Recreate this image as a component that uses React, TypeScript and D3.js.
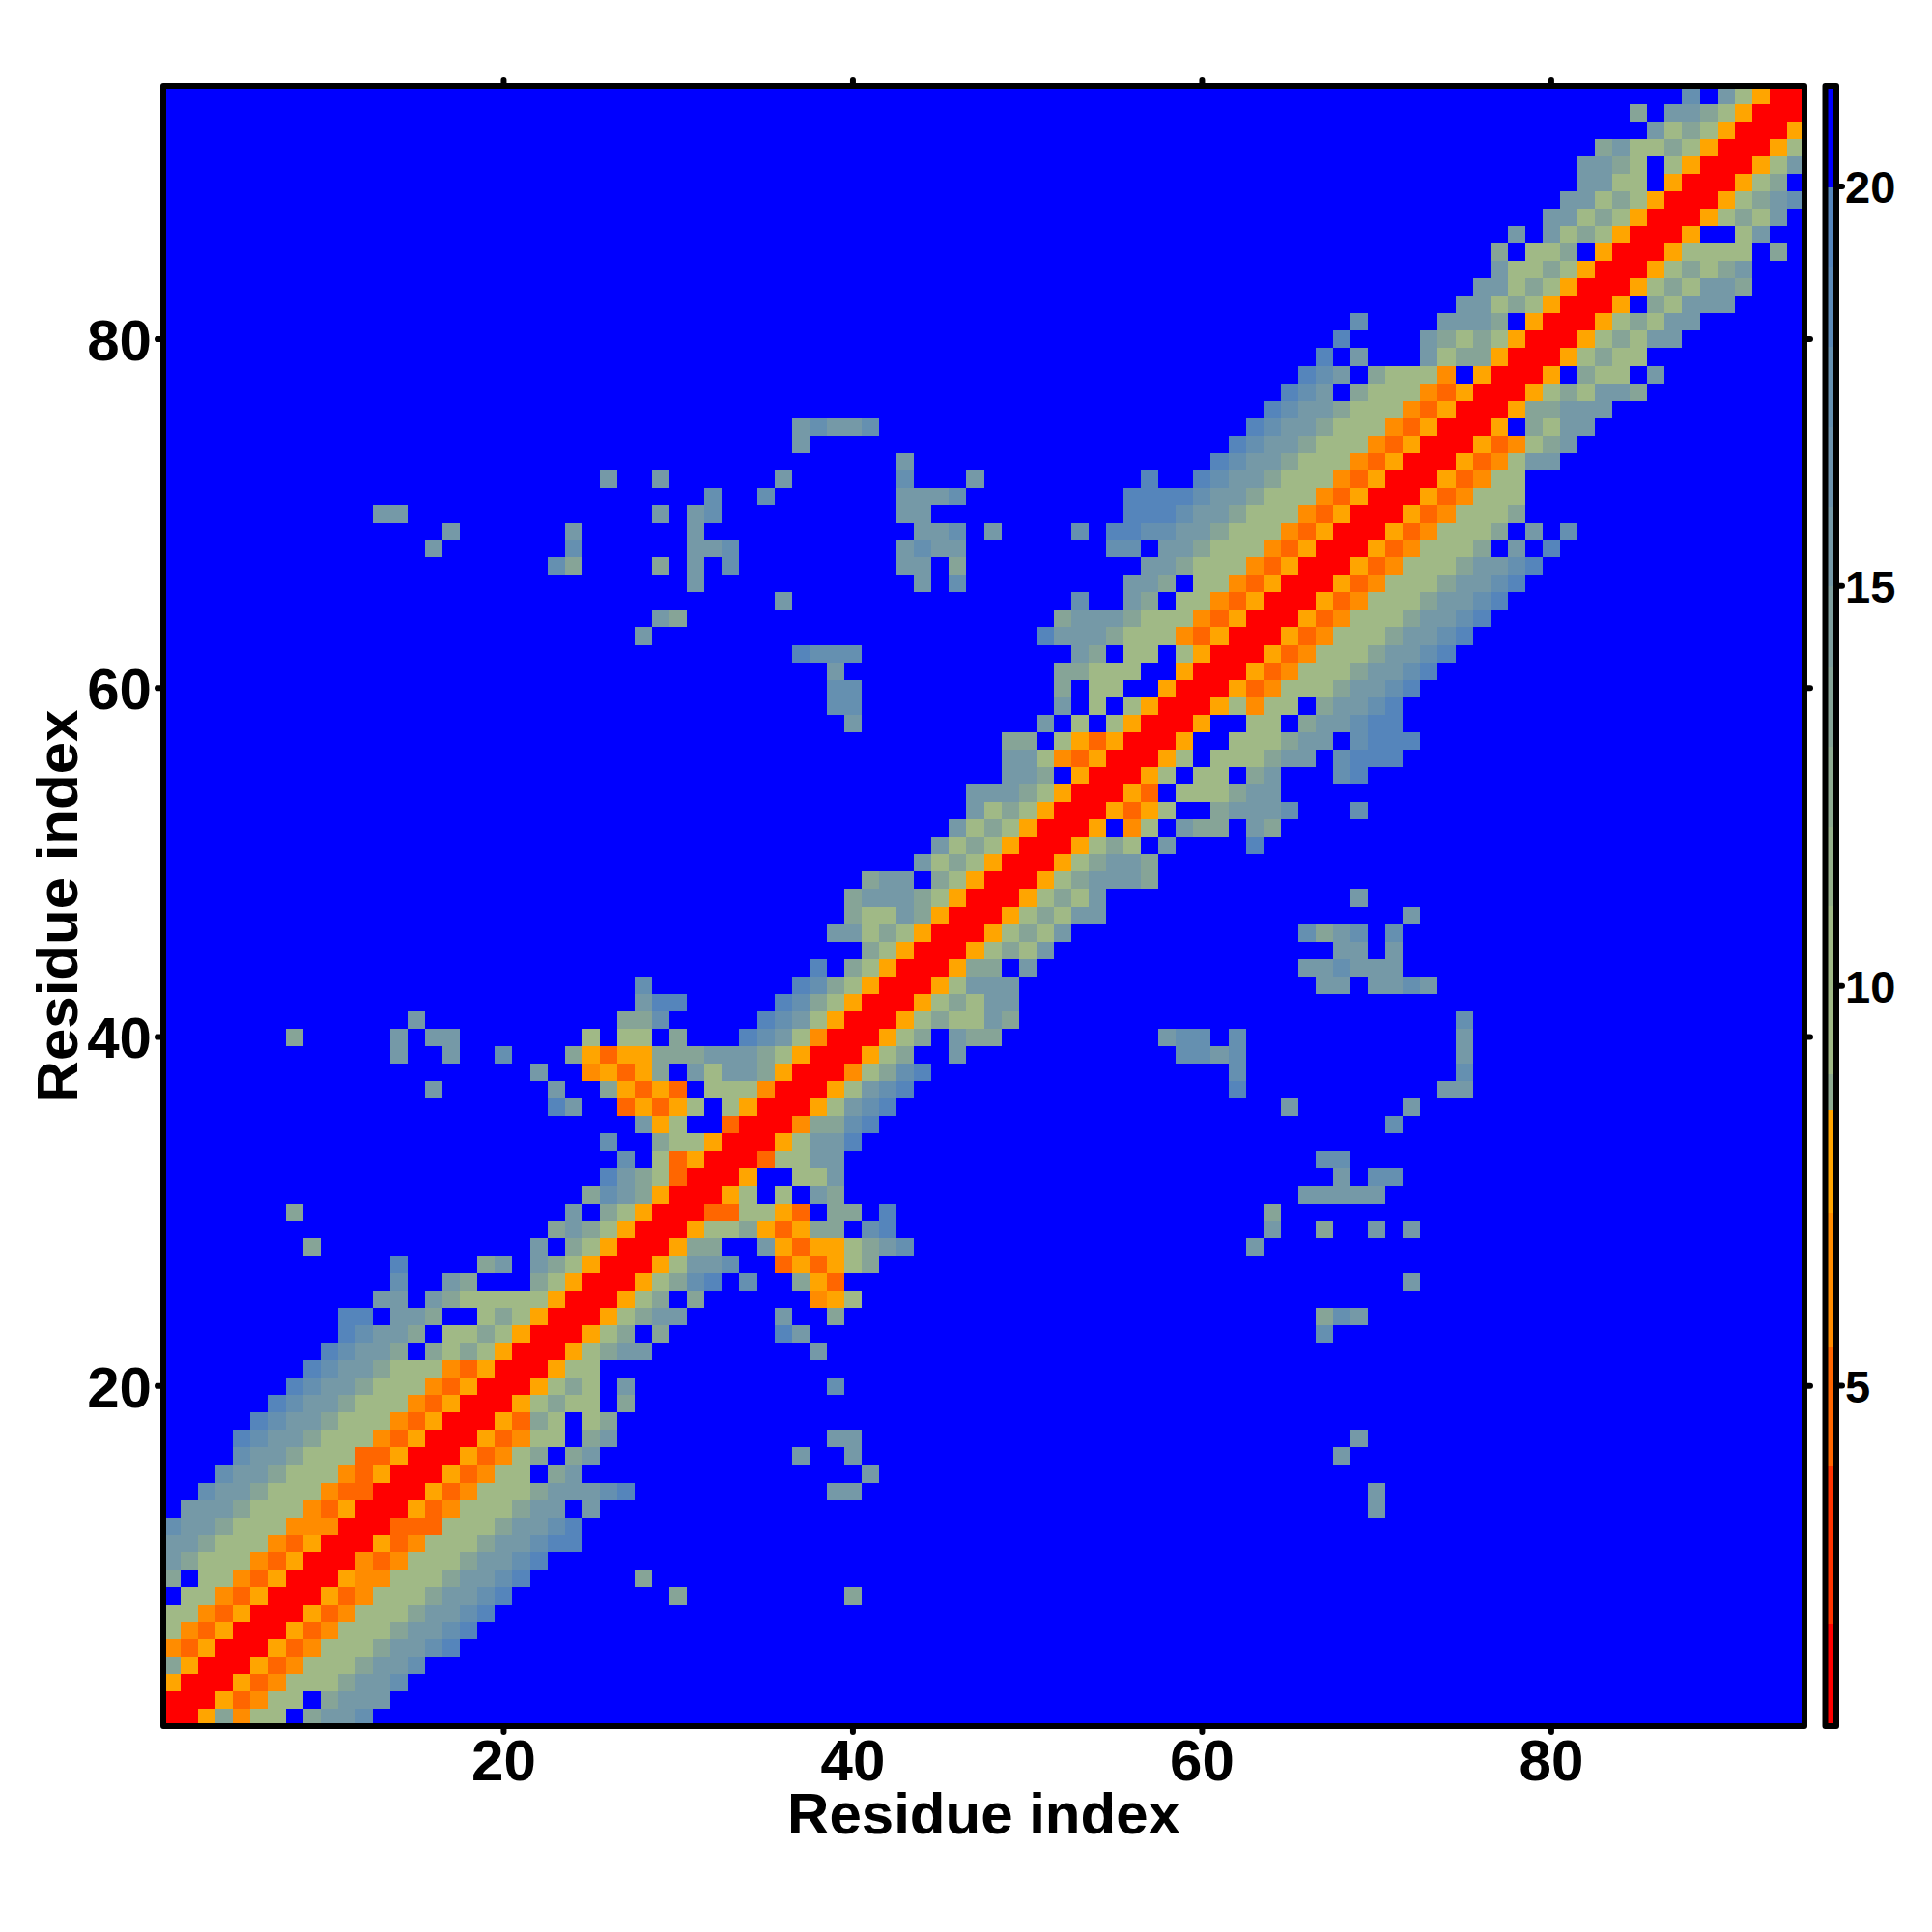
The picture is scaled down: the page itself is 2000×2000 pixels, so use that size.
// Residue distance map: symmetric 94 x 94 heatmap with a stepped colour bar.
import React, { useRef, useEffect } from 'react';
import * as d3 from 'd3';

const residueCount = 94;
const axisTicks = [20, 40, 60, 80];
const barTicks = [5, 10, 15, 20];

// Distance class -> representative value, index is the digit used in contactRuns.
const levelValues = [21, 19.5, 17.5, 15.5, 13.5, 10, 8, 6.5, 5, 1.5];

const barBreaks = [2.03, 4, 5.5, 7.16, 8.45, 8.9, 11, 12, 13, 14, 15, 16, 17, 18, 19, 20];
const barColors = [
  '#ff0000', '#ff3300', '#ff6600', '#ff8c00', '#ffa500', '#8eab91', '#a0b986', '#96b18b', '#8eab91',
  '#86a497', '#7f9f9e', '#7599a7', '#6d93ad', '#6590b0', '#5b89b7', '#5585bb', '#0000ff',
];

// One entry per residue (row 1 first), cells up to the diagonal, the rest mirrored.
// "col:digits" means the digits start at that column; columns not listed are class 0.
const contactRuns = [
  '1:9', '1:99', '1:699', '1:4699', '1:78699', '1:578699', '1:5578699', '2:5578699',
  '1:4 3:5578699', '1:3455578699', '1:33455578699', '1:233455577799', '2:333455578699',
  '3:233455578899', '4:233455578699', '5:233455588699', '5:1233455578699', '6:1233455578699',
  '7:1233455578699', '8:1233455578699', '9:1233455578699', '10:1233404545699', '11:1233405545699',
  '11:11 14:334 19:545699', '13:33 16:3455555699', '14:2 17:34 22:45699', '14:1 19:43 22:345699',
  '9:4 22:3 24:45699', '23:4345699', '8:4 24:3 26:45699', '25:4234699', '26:1345899',
  '27:2 29:58699', '26:2 29:455699', '28:365 33:899', '23:13 27:86865 33:5699',
  '16:3 23:3 26:46868 32:555799', '22:3 25:76864 31:35334699',
  '14:3 17:3 20:2 24:4686644433345699', '8:4 14:3 16:33 25:5 27:55 30:4 34:1235799',
  '15:3 27:442 35:1235699', '28:311 36:1245699', '28:2 37:1245699', '38:1 40:45699', '41:45699',
  '39:33545699', '40:45534699', '40:433345699', '41:433 45:45699', '44:3545699', '45:3545699',
  '46:3545699', '47:3545699', '47:33345699', '49:334 53:699', '49:33578699', '49:44 52:568699',
  '40:3 51:3 53:5 55:5699', '39:22 52:3 54:5 56:5699', '39:22 52:4 54:55 58:699',
  '39:3 52:44555 59:699', '37:1222 53:34 56:55 59:5699', '28:3 51:1333455578699',
  '29:34 52:4333455578699', '36:3 53:2 56:34 59:5578699', '31:3 44:3 46:2 56:334 60:5578699',
  '23:24 29:4 31:3 33:2 43:33 46:4 57:33455578699', '16:3 24:2 31:332 43:3233 55:22 58:33455578699',
  '17:3 24:3 31:3 44:332 48:3 53:2 55:11 57:2233455578699', '13:33 29:3 31:32 43:33 56:111 59:233455578699',
  '32:2 35:2 43:3332 56:1111 60:233455578699', '26:3 29:3 36:3 43:2 47:3 57:1 60:1233455578699',
  '43:3 61:1233455578699', '37:3 62:1233455578699', '37:32332 63:1233455578699', '64:1233455578699',
  '65:1230455578699', '66:1230455570699', '67:1 69:3 73:3544699', '68:1 73:34545699',
  '69:2 74:33340699', '75:33545699', '76:33545699', '77:35545699', '77:4 79:5540699',
  '78:3 80:3545699', '80:33545699', '81:33545699', '82:33550699', '82:334505699', '83:435545699',
  '86:3545699', '85:4 87:3345699', '88:2 90:35699',
];

function buildMatrix(): number[][] {
  const m = d3.range(residueCount).map(() => new Array(residueCount).fill(levelValues[0]));
  contactRuns.forEach((runs, row) => {
    for (const run of runs.split(' ')) {
      const [start, digits] = run.split(':');
      [...digits].forEach((d, i) => {
        const col = +start - 1 + i;
        m[row][col] = levelValues[+d];
        m[col][row] = levelValues[+d];
      });
    }
  });
  return m;
}

export default function App() {
  const svgRef = useRef<SVGSVGElement>(null);

  useEffect(() => {
    const svg = d3.select(svgRef.current);
    svg.selectAll('*').remove();

    const left = 169, right = 1868, top = 89, bottom = 1787;
    const font = '"Liberation Sans", Arial, sans-serif';

    const x = d3.scaleLinear().domain([0.5, residueCount + 0.5]).range([left, right]);
    const y = d3.scaleLinear().domain([0.5, residueCount + 0.5]).range([bottom, top]);
    const color = d3.scaleThreshold<number, string>().domain(barBreaks).range(barColors);

    const cells = svg.append('g').attr('shape-rendering', 'crispEdges');
    buildMatrix().forEach((row, r) => {
      row.forEach((v, c) => {
        cells.append('rect')
          .attr('x', x(c + 0.5)).attr('y', y(r + 1.5))
          .attr('width', x(c + 1.5) - x(c + 0.5) + 0.5)
          .attr('height', y(r + 0.5) - y(r + 1.5) + 0.5)
          .attr('fill', color(v));
      });
    });

    const tickLine = (x1: number, y1: number, x2: number, y2: number) =>
      svg.append('line').attr('x1', x1).attr('y1', y1).attr('x2', x2).attr('y2', y2)
        .attr('stroke', 'black').attr('stroke-width', 6).attr('stroke-linecap', 'round');

    for (const t of axisTicks) {
      tickLine(x(t), bottom, x(t), bottom + 6);
      tickLine(x(t), top, x(t), top - 6);
      tickLine(left, y(t), left - 6, y(t));
      tickLine(right, y(t), right + 6, y(t));
      svg.append('text').attr('x', x(t)).attr('y', 1843)
        .attr('text-anchor', 'middle').attr('font-family', font).attr('font-weight', 'bold')
        .attr('font-size', 60).text(t);
      svg.append('text').attr('x', 157).attr('y', y(t) + 22)
        .attr('text-anchor', 'end').attr('font-family', font).attr('font-weight', 'bold')
        .attr('font-size', 60).text(t);
    }

    svg.append('rect')
      .attr('x', left).attr('y', top).attr('width', right - left).attr('height', bottom - top)
      .attr('fill', 'none').attr('stroke', 'black').attr('stroke-width', 6)
      .attr('stroke-linejoin', 'round');

    svg.append('text').attr('x', (left + right) / 2).attr('y', 1898)
      .attr('text-anchor', 'middle').attr('font-family', font).attr('font-weight', 'bold')
      .attr('font-size', 60).text('Residue index');
    svg.append('text').attr('transform', `translate(80,${(top + bottom) / 2}) rotate(-90)`)
      .attr('text-anchor', 'middle').attr('font-family', font).attr('font-weight', 'bold')
      .attr('font-size', 60).text('Residue index');

    // Colour bar
    const barLeft = 1889.5, barRight = 1901;
    const barY = d3.scaleLinear().domain([20, 10]).range([193, 1020.7]);
    const barTop = 89, barBottom = 1787;
    const edges = [barBottom, ...barBreaks.map((b) => barY(b)), barTop];
    const bar = svg.append('g').attr('shape-rendering', 'crispEdges');
    barColors.forEach((c, i) => {
      bar.append('rect')
        .attr('x', barLeft).attr('width', barRight - barLeft)
        .attr('y', edges[i + 1]).attr('height', edges[i] - edges[i + 1] + 0.5)
        .attr('fill', c);
    });
    for (const t of barTicks) {
      tickLine(barRight, barY(t), barRight + 6, barY(t));
      svg.append('text').attr('x', 1910).attr('y', barY(t) + 17)
        .attr('font-family', font).attr('font-weight', 'bold').attr('font-size', 47).text(t);
    }
    svg.append('rect')
      .attr('x', barLeft).attr('y', barTop).attr('width', barRight - barLeft).attr('height', barBottom - barTop)
      .attr('fill', 'none').attr('stroke', 'black').attr('stroke-width', 6)
      .attr('stroke-linejoin', 'round');
  }, []);

  return (
    <svg
      ref={svgRef}
      width={2000}
      height={2000}
      viewBox="0 0 2000 2000"
      style={{ position: 'absolute', left: 0, top: 0, background: 'white' }}
    />
  );
}
